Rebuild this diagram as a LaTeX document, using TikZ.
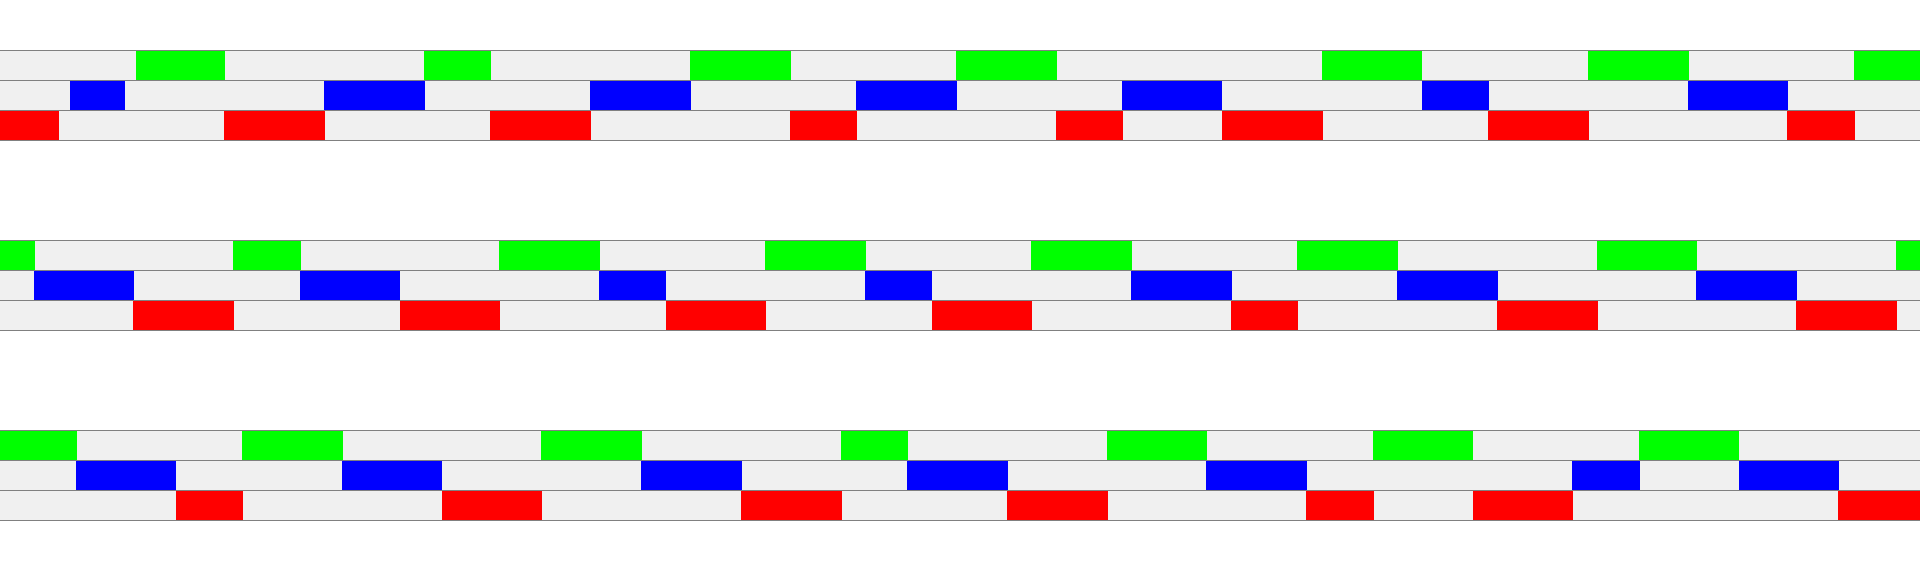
\documentclass[tikz,border=0pt]{standalone}
\definecolor{cellgray}{HTML}{F0F0F0}
\definecolor{rulegray}{HTML}{808080}
\definecolor{cgreen}{HTML}{00FF00}
\definecolor{cblue}{HTML}{0000FF}
\definecolor{cred}{HTML}{FF0000}
\newcommand\myslots[3]{\foreach \a/\b in {#3} {\fill[#2] (\a,#1) rectangle (\b,#1+30.2);}}
\begin{document}
\begin{tikzpicture}[x=0.02cm,y=-0.02cm,
  rowbg/.style={fill=cellgray},
  rowrule/.style={draw=rulegray,line width=0.7pt}]
\useasboundingbox (0,0) rectangle (1920,570);
\fill[white] (0,0) rectangle (1920,570);
% backgrounds
\foreach \t in {50.2,240.2,430.2} {\fill[rowbg] (0,\t) rectangle (1920,\t+90.6);}
% group 1
\myslots{50.2}{cgreen}{136/225,424/491,690/791,956/1057,1322/1422,1588/1689,1854/1920}
\myslots{80.4}{cblue}{70/125,324/425,590/691,856/957,1122/1222,1422/1489,1688/1788}
\myslots{110.6}{cred}{0/59,224/325,490/591,790/857,1056/1123,1222/1323,1488/1589,1787/1855}
% group 2
\myslots{240.2}{cgreen}{0/35,233/301,499/600,765/866,1031/1132,1297/1398,1597/1697,1896/1920}
\myslots{270.4}{cblue}{34/134,300/400,599/666,865/932,1131/1232,1397/1498,1696/1797}
\myslots{300.6}{cred}{133/234,400/500,666/766,932/1032,1231/1298,1497/1598,1796/1897}
% group 3
\myslots{430.2}{cgreen}{0/77,242/343,541/642,841/908,1107/1207,1373/1473,1639/1739}
\myslots{460.4}{cblue}{76/176,342/442,641/742,907/1008,1206/1307,1572/1640,1739/1839}
\myslots{490.6}{cred}{176/243,442/542,741/842,1007/1108,1306/1374,1473/1573,1838/1920}
% rules
\foreach \t in {50.2,240.2,430.2} {
  \foreach \k in {0,1,2,3} {\draw[rowrule] (0,\t+30.2*\k) -- (1920,\t+30.2*\k);}
}
\end{tikzpicture}
\end{document}
